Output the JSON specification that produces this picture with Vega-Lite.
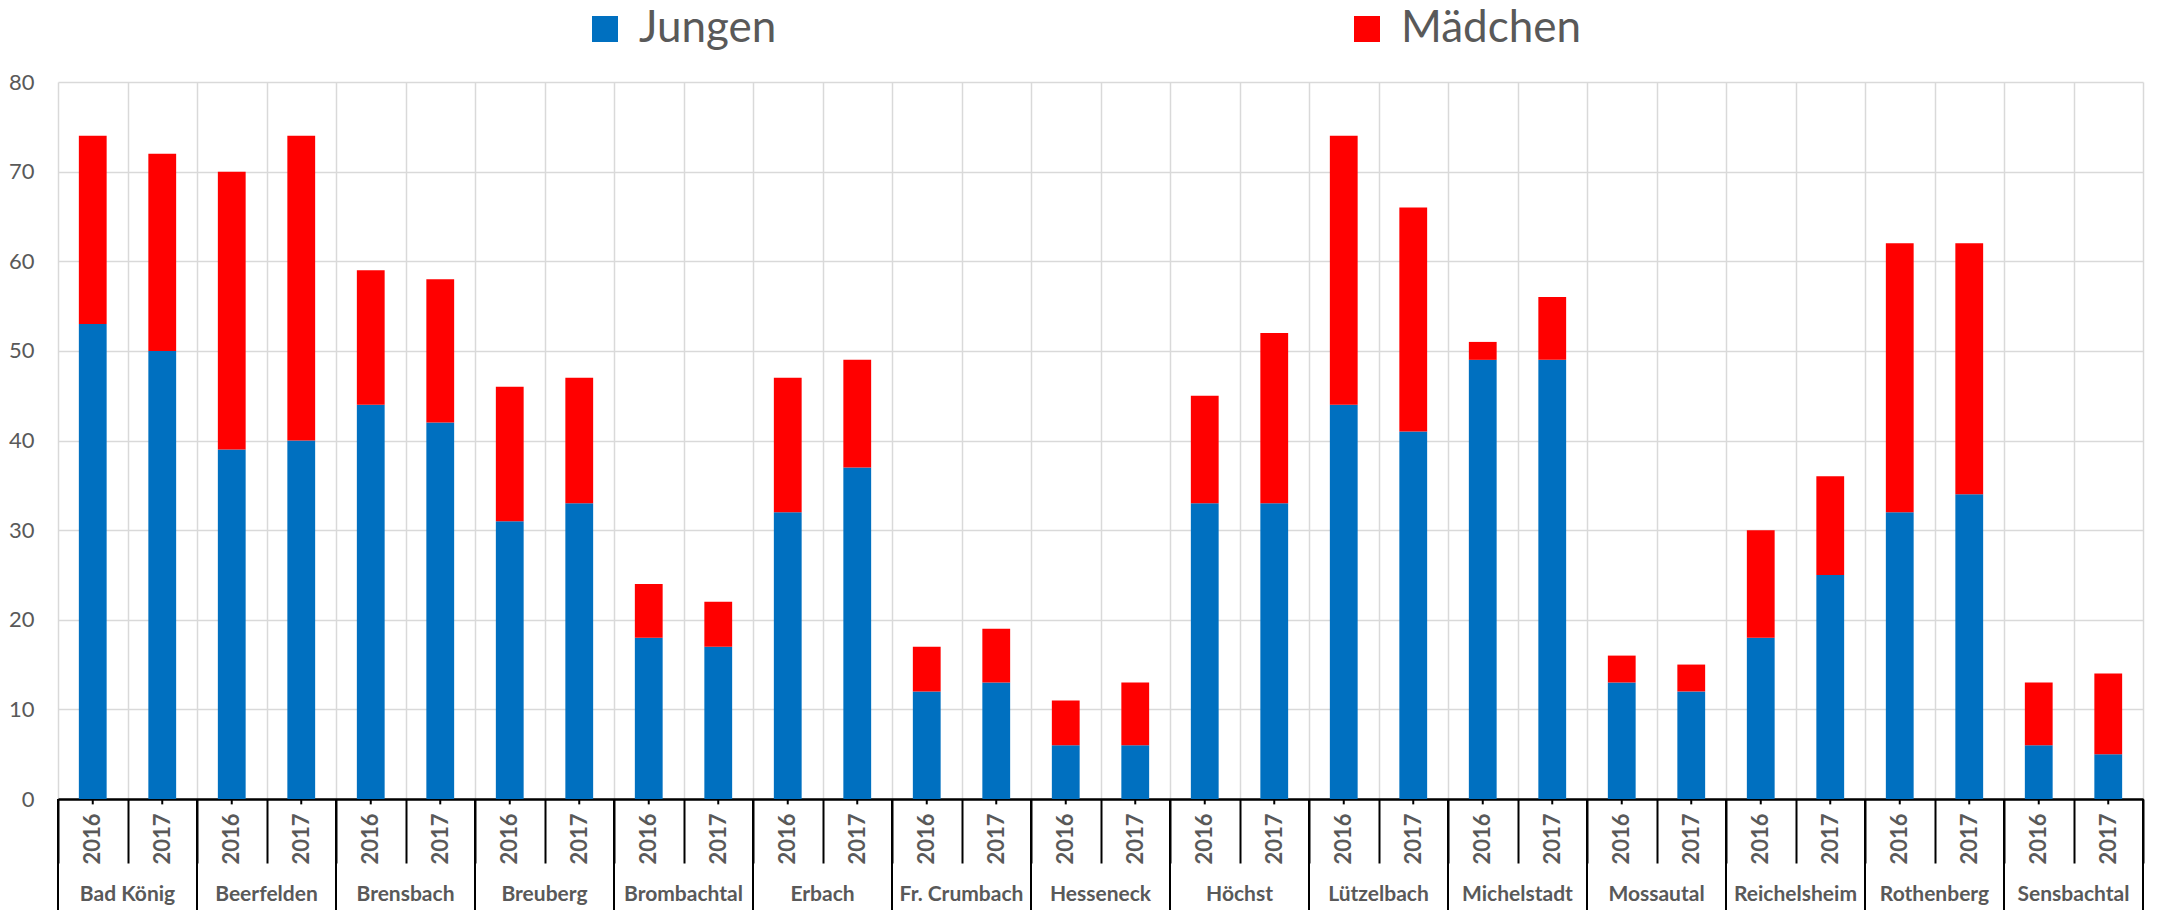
{
  "$schema": "https://vega.github.io/schema/vega-lite/v6.json",
  "autosize": {"type": "none"},
  "width": 2085,
  "height": 717,
  "padding": {"left": 58, "top": 82, "right": 18, "bottom": 111},
  "background": "white",
  "config": {
    "font": "Lato",
    "view": {"stroke": null}
  },
  "data": {
    "values": [
      {"gemeinde": "Bad König", "jahr": "2016", "key": "Bad König 2016", "geschlecht": "Jungen", "anzahl": 53},
      {"gemeinde": "Bad König", "jahr": "2016", "key": "Bad König 2016", "geschlecht": "Mädchen", "anzahl": 21},
      {"gemeinde": "Bad König", "jahr": "2017", "key": "Bad König 2017", "geschlecht": "Jungen", "anzahl": 50},
      {"gemeinde": "Bad König", "jahr": "2017", "key": "Bad König 2017", "geschlecht": "Mädchen", "anzahl": 22},
      {"gemeinde": "Beerfelden", "jahr": "2016", "key": "Beerfelden 2016", "geschlecht": "Jungen", "anzahl": 39},
      {"gemeinde": "Beerfelden", "jahr": "2016", "key": "Beerfelden 2016", "geschlecht": "Mädchen", "anzahl": 31},
      {"gemeinde": "Beerfelden", "jahr": "2017", "key": "Beerfelden 2017", "geschlecht": "Jungen", "anzahl": 40},
      {"gemeinde": "Beerfelden", "jahr": "2017", "key": "Beerfelden 2017", "geschlecht": "Mädchen", "anzahl": 34},
      {"gemeinde": "Brensbach", "jahr": "2016", "key": "Brensbach 2016", "geschlecht": "Jungen", "anzahl": 44},
      {"gemeinde": "Brensbach", "jahr": "2016", "key": "Brensbach 2016", "geschlecht": "Mädchen", "anzahl": 15},
      {"gemeinde": "Brensbach", "jahr": "2017", "key": "Brensbach 2017", "geschlecht": "Jungen", "anzahl": 42},
      {"gemeinde": "Brensbach", "jahr": "2017", "key": "Brensbach 2017", "geschlecht": "Mädchen", "anzahl": 16},
      {"gemeinde": "Breuberg", "jahr": "2016", "key": "Breuberg 2016", "geschlecht": "Jungen", "anzahl": 31},
      {"gemeinde": "Breuberg", "jahr": "2016", "key": "Breuberg 2016", "geschlecht": "Mädchen", "anzahl": 15},
      {"gemeinde": "Breuberg", "jahr": "2017", "key": "Breuberg 2017", "geschlecht": "Jungen", "anzahl": 33},
      {"gemeinde": "Breuberg", "jahr": "2017", "key": "Breuberg 2017", "geschlecht": "Mädchen", "anzahl": 14},
      {"gemeinde": "Brombachtal", "jahr": "2016", "key": "Brombachtal 2016", "geschlecht": "Jungen", "anzahl": 18},
      {"gemeinde": "Brombachtal", "jahr": "2016", "key": "Brombachtal 2016", "geschlecht": "Mädchen", "anzahl": 6},
      {"gemeinde": "Brombachtal", "jahr": "2017", "key": "Brombachtal 2017", "geschlecht": "Jungen", "anzahl": 17},
      {"gemeinde": "Brombachtal", "jahr": "2017", "key": "Brombachtal 2017", "geschlecht": "Mädchen", "anzahl": 5},
      {"gemeinde": "Erbach", "jahr": "2016", "key": "Erbach 2016", "geschlecht": "Jungen", "anzahl": 32},
      {"gemeinde": "Erbach", "jahr": "2016", "key": "Erbach 2016", "geschlecht": "Mädchen", "anzahl": 15},
      {"gemeinde": "Erbach", "jahr": "2017", "key": "Erbach 2017", "geschlecht": "Jungen", "anzahl": 37},
      {"gemeinde": "Erbach", "jahr": "2017", "key": "Erbach 2017", "geschlecht": "Mädchen", "anzahl": 12},
      {"gemeinde": "Fr. Crumbach", "jahr": "2016", "key": "Fr. Crumbach 2016", "geschlecht": "Jungen", "anzahl": 12},
      {"gemeinde": "Fr. Crumbach", "jahr": "2016", "key": "Fr. Crumbach 2016", "geschlecht": "Mädchen", "anzahl": 5},
      {"gemeinde": "Fr. Crumbach", "jahr": "2017", "key": "Fr. Crumbach 2017", "geschlecht": "Jungen", "anzahl": 13},
      {"gemeinde": "Fr. Crumbach", "jahr": "2017", "key": "Fr. Crumbach 2017", "geschlecht": "Mädchen", "anzahl": 6},
      {"gemeinde": "Hesseneck", "jahr": "2016", "key": "Hesseneck 2016", "geschlecht": "Jungen", "anzahl": 6},
      {"gemeinde": "Hesseneck", "jahr": "2016", "key": "Hesseneck 2016", "geschlecht": "Mädchen", "anzahl": 5},
      {"gemeinde": "Hesseneck", "jahr": "2017", "key": "Hesseneck 2017", "geschlecht": "Jungen", "anzahl": 6},
      {"gemeinde": "Hesseneck", "jahr": "2017", "key": "Hesseneck 2017", "geschlecht": "Mädchen", "anzahl": 7},
      {"gemeinde": "Höchst", "jahr": "2016", "key": "Höchst 2016", "geschlecht": "Jungen", "anzahl": 33},
      {"gemeinde": "Höchst", "jahr": "2016", "key": "Höchst 2016", "geschlecht": "Mädchen", "anzahl": 12},
      {"gemeinde": "Höchst", "jahr": "2017", "key": "Höchst 2017", "geschlecht": "Jungen", "anzahl": 33},
      {"gemeinde": "Höchst", "jahr": "2017", "key": "Höchst 2017", "geschlecht": "Mädchen", "anzahl": 19},
      {"gemeinde": "Lützelbach", "jahr": "2016", "key": "Lützelbach 2016", "geschlecht": "Jungen", "anzahl": 44},
      {"gemeinde": "Lützelbach", "jahr": "2016", "key": "Lützelbach 2016", "geschlecht": "Mädchen", "anzahl": 30},
      {"gemeinde": "Lützelbach", "jahr": "2017", "key": "Lützelbach 2017", "geschlecht": "Jungen", "anzahl": 41},
      {"gemeinde": "Lützelbach", "jahr": "2017", "key": "Lützelbach 2017", "geschlecht": "Mädchen", "anzahl": 25},
      {"gemeinde": "Michelstadt", "jahr": "2016", "key": "Michelstadt 2016", "geschlecht": "Jungen", "anzahl": 49},
      {"gemeinde": "Michelstadt", "jahr": "2016", "key": "Michelstadt 2016", "geschlecht": "Mädchen", "anzahl": 2},
      {"gemeinde": "Michelstadt", "jahr": "2017", "key": "Michelstadt 2017", "geschlecht": "Jungen", "anzahl": 49},
      {"gemeinde": "Michelstadt", "jahr": "2017", "key": "Michelstadt 2017", "geschlecht": "Mädchen", "anzahl": 7},
      {"gemeinde": "Mossautal", "jahr": "2016", "key": "Mossautal 2016", "geschlecht": "Jungen", "anzahl": 13},
      {"gemeinde": "Mossautal", "jahr": "2016", "key": "Mossautal 2016", "geschlecht": "Mädchen", "anzahl": 3},
      {"gemeinde": "Mossautal", "jahr": "2017", "key": "Mossautal 2017", "geschlecht": "Jungen", "anzahl": 12},
      {"gemeinde": "Mossautal", "jahr": "2017", "key": "Mossautal 2017", "geschlecht": "Mädchen", "anzahl": 3},
      {"gemeinde": "Reichelsheim", "jahr": "2016", "key": "Reichelsheim 2016", "geschlecht": "Jungen", "anzahl": 18},
      {"gemeinde": "Reichelsheim", "jahr": "2016", "key": "Reichelsheim 2016", "geschlecht": "Mädchen", "anzahl": 12},
      {"gemeinde": "Reichelsheim", "jahr": "2017", "key": "Reichelsheim 2017", "geschlecht": "Jungen", "anzahl": 25},
      {"gemeinde": "Reichelsheim", "jahr": "2017", "key": "Reichelsheim 2017", "geschlecht": "Mädchen", "anzahl": 11},
      {"gemeinde": "Rothenberg", "jahr": "2016", "key": "Rothenberg 2016", "geschlecht": "Jungen", "anzahl": 32},
      {"gemeinde": "Rothenberg", "jahr": "2016", "key": "Rothenberg 2016", "geschlecht": "Mädchen", "anzahl": 30},
      {"gemeinde": "Rothenberg", "jahr": "2017", "key": "Rothenberg 2017", "geschlecht": "Jungen", "anzahl": 34},
      {"gemeinde": "Rothenberg", "jahr": "2017", "key": "Rothenberg 2017", "geschlecht": "Mädchen", "anzahl": 28},
      {"gemeinde": "Sensbachtal", "jahr": "2016", "key": "Sensbachtal 2016", "geschlecht": "Jungen", "anzahl": 6},
      {"gemeinde": "Sensbachtal", "jahr": "2016", "key": "Sensbachtal 2016", "geschlecht": "Mädchen", "anzahl": 7},
      {"gemeinde": "Sensbachtal", "jahr": "2017", "key": "Sensbachtal 2017", "geschlecht": "Jungen", "anzahl": 5},
      {"gemeinde": "Sensbachtal", "jahr": "2017", "key": "Sensbachtal 2017", "geschlecht": "Mädchen", "anzahl": 9}
    ]
  },
  "layer": [
    {
      "mark": {"type": "bar", "width": {"band": 0.4}},
      "encoding": {
        "x": {
          "field": "key", "type": "nominal", "sort": null,
          "scale": {"paddingInner": 0, "paddingOuter": 0},
          "axis": {
            "title": null,
            "tickBand": "extent",
            "grid": true, "gridColor": "#d9d9d9", "gridWidth": 1.5,
            "domainColor": "#000000", "domainWidth": 2.5,
            "tickColor": "#000000", "tickWidth": 2, "tickSize": 64,
            "labelExpr": "slice(datum.label, -4)",
            "labelAngle": -90, "labelAlign": "right", "labelBaseline": "middle",
            "labelPadding": -50,
            "labelFont": "Lato", "labelFontSize": 22, "labelFontWeight": "bold",
            "labelColor": "#595959"
          }
        },
        "y": {
          "field": "anzahl", "type": "quantitative", "aggregate": "sum", "stack": "zero",
          "scale": {"domain": [0, 80], "nice": false},
          "axis": {
            "title": null, "values": [0, 10, 20, 30, 40, 50, 60, 70, 80],
            "domain": false, "ticks": false,
            "grid": true, "gridColor": "#d9d9d9", "gridWidth": 1.5,
            "labelPadding": 24, "labelFont": "Lato", "labelFontSize": 22,
            "labelColor": "#595959"
          }
        },
        "color": {
          "field": "geschlecht", "type": "nominal",
          "scale": {"domain": ["Jungen", "Mädchen"], "range": ["#0070C0", "#FF0000"]},
          "legend": {
            "title": null, "orient": "none", "direction": "horizontal", "columns": 2,
            "legendX": 525, "legendY": -75,
            "symbolType": "square", "symbolSize": 676, "symbolStrokeWidth": 0,
            "symbolOpacity": 1,
            "labelFont": "Lato", "labelFontSize": 44, "labelColor": "#595959",
            "labelOffset": 12, "columnPadding": 568, "labelLimit": 400
          }
        },
        "order": {"field": "geschlecht", "sort": "ascending"}
      }
    },
    {
      "transform": [{"filter": "datum.geschlecht == 'Jungen'"}],
      "mark": {"type": "rule", "color": "#000000", "strokeWidth": 2},
      "encoding": {
        "x": {"field": "key", "type": "nominal", "sort": null},
        "y": {"datum": 0},
        "y2": {"datum": -0.6}
      }
    },
    {
      "transform": [{"filter": "datum.geschlecht == 'Jungen' && datum.jahr == '2016'"}],
      "mark": {"type": "rule", "color": "#000000", "strokeWidth": 2},
      "encoding": {
        "x": {"field": "key", "type": "nominal", "sort": null, "bandPosition": 0},
        "y": {"datum": 0},
        "y2": {"datum": -12.4}
      }
    },
    {
      "transform": [{"filter": "datum.geschlecht == 'Jungen' && datum.gemeinde == 'Sensbachtal' && datum.jahr == '2017'"}],
      "mark": {"type": "rule", "color": "#000000", "strokeWidth": 2},
      "encoding": {
        "x": {"field": "key", "type": "nominal", "sort": null, "bandPosition": 1},
        "y": {"datum": 0},
        "y2": {"datum": -12.4}
      }
    },
    {
      "transform": [{"filter": "datum.geschlecht == 'Jungen' && datum.jahr == '2016'"}],
      "mark": {"type": "text", "font": "Lato", "fontSize": 21, "fontWeight": "bold", "color": "#595959", "align": "center", "baseline": "middle"},
      "encoding": {
        "x": {"field": "key", "type": "nominal", "sort": null, "bandPosition": 1},
        "y": {"datum": -10.7},
        "text": {"field": "gemeinde"}
      }
    }
  ]
}
